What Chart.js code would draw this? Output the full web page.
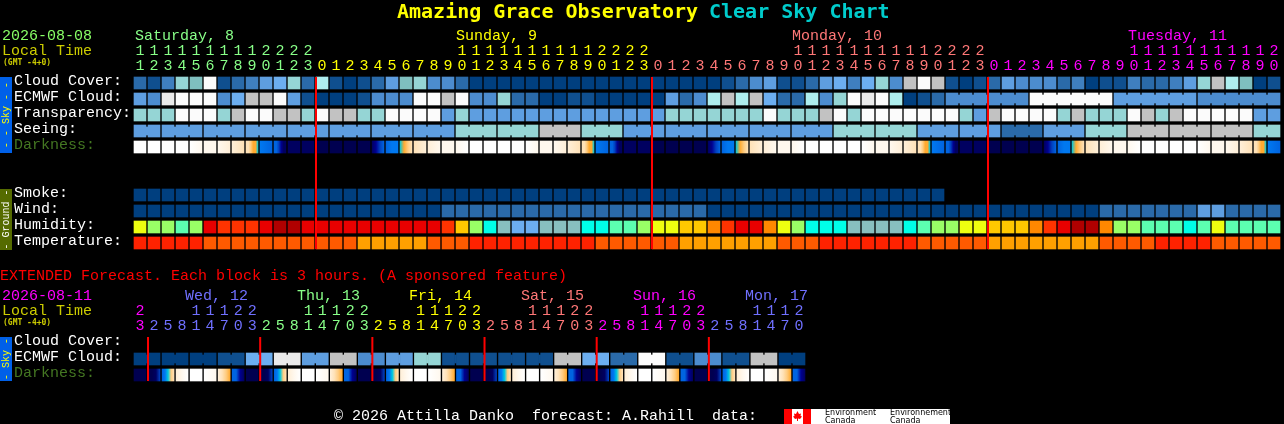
<!DOCTYPE html>
<html>
<head>
<meta charset="utf-8">
<title>Amazing Grace Observatory Clear Sky Chart</title>
<script src="https://cdn.jsdelivr.net/npm/chart.js@4/dist/chart.umd.js"></script>
<style>
  html, body { margin: 0; padding: 0; background: #000; width: 1284px; height: 424px; overflow: hidden; }
  canvas { position: absolute; left: 0; display: block; }
  #mainChart { top: 0; }
  #extendedChart { top: 260px; }
</style>
</head>
<body>
<canvas id="mainChart" width="1284" height="260"></canvas>
<canvas id="extendedChart" width="1284" height="164"></canvas>
<script>
const mono = "'Liberation Mono', monospace";
const titleFont = "bold 20px 'DejaVu Sans Mono', monospace";
const smallFont = "bold 8px 'DejaVu Sans Mono', monospace";

// hourly block
const hours = [
  11, 12, 13, 14, 15, 16, 17, 18, 19, 20, 21, 22, 23,
  0, 1, 2, 3, 4, 5, 6, 7, 8, 9, 10, 11, 12, 13, 14, 15, 16, 17, 18, 19, 20, 21, 22, 23,
  0, 1, 2, 3, 4, 5, 6, 7, 8, 9, 10, 11, 12, 13, 14, 15, 16, 17, 18, 19, 20, 21, 22, 23,
  0, 1, 2, 3, 4, 5, 6, 7, 8, 9, 10, 11, 12, 13, 14, 15, 16, 17, 18, 19, 20,
];
const rowLabels = ["Cloud Cover:", "ECMWF Cloud:", "Transparency:", "Seeing:", "Darkness:", "", "", "Smoke:", "Wind:", "Humidity:", "Temperature:"];
const midnightColumns = [13, 37, 61];

const cloudCover = [
  2, 1, 3, 8, 7, 12, 1, 2, 3, 5,
  6, 8, 2, 9, 1, 0, 1, 2, 5, 7,
  8, 4, 4, 2, 0, 0, 0, 0, 0, 0,
  0, 0, 0, 0, 0, 0, 0, 0, 0, 0,
  0, 0, 1, 2, 4, 5, 1, 1, 2, 5,
  6, 3, 6, 8, 4, 10, 12, 10, 1, 0,
  1, 2, 5, 4, 4, 4, 2, 3, 0, 1,
  1, 3, 2, 2, 3, 5, 8, 10, 9, 7,
  0, 1,
];
const ecmwfCloud = [
  5, 4, 11, 12, 12, 12, 4, 6, 10, 10,
  12, 5, 1, 0, 0, 0, 1, 4, 4, 4,
  12, 12, 10, 12, 4, 4, 8, 2, 2, 0,
  0, 1, 1, 0, 0, 0, 0, 0, 5, 2,
  4, 9, 10, 9, 10, 6, 2, 2, 9, 4,
  8, 12, 11, 12, 9, 0, 1, 2, 4, 4,
  4, 4, 4, 4, 12, 12, 12, 12, 12, 12,
  5, 5, 5, 5, 5, 5, 4, 4, 4, 4,
  4, 4,
];
const ecmwfMergedSpans = [[58, 63], [64, 69], [70, 75], [76, 81]];
const transparency = [
  8, 8, 8, 12, 12, 12, 8, 10, 12, 12,
  10, 10, 8, 12, 10, 10, 8, 8, 12, 12,
  12, 12, 5, 8, 5, 5, 5, 5, 5, 5,
  5, 5, 5, 5, 5, 5, 5, 5, 8, 8,
  8, 8, 8, 8, 8, 12, 8, 8, 8, 10,
  12, 8, 12, 12, 12, 12, 12, 12, 12, 8,
  5, 10, 12, 12, 12, 12, 8, 10, 8, 8,
  8, 12, 10, 8, 10, 12, 12, 12, 12, 12,
  5, 5,
];
// seeing comes in 3 hour blocks, the first and last are cut short
const seeingBlockSizes = [2, 3, 3, 3, 3, 3, 3, 3, 3, 3, 3, 3, 3, 3, 3, 3, 3, 3, 3, 3, 3, 3, 3, 3, 3, 3, 3, 2];
const seeingBlocks = [5, 5, 5, 5, 5, 5, 5, 5, 8, 8, 10, 8, 5, 5, 5, 5, 5, 8, 8, 5, 5, 2, 5, 8, 10, 10, 10, 8];
const darkness = [
  [0], [0], [0], [0], [0, 1], [1], [1, 2], [2, 3],
  [3, 3, 4, 5, 5, 6], [7, 8], [8, 8, 9, 10, 11, 11], [11], [11], [12], [12], [12], [12],
  [11, 10, 9, 8], [8, 7, 7], [6, 5, 4, 3], [3, 2], [2, 1], [1], [1, 0],
  [0], [0], [0], [0], [0, 1], [1], [1, 2], [2, 3],
  [3, 3, 4, 5, 5, 6], [7, 8], [8, 8, 9, 10, 11, 11], [11], [11], [12], [12], [12], [12],
  [11, 10, 9, 8], [8, 7, 7], [6, 5, 4, 3], [3, 2], [2, 1], [1], [1, 0],
  [0], [0], [0], [0], [0, 1], [1], [1, 2], [2, 3],
  [3, 3, 4, 5, 5, 6], [7, 8], [8, 8, 9, 10, 11, 11], [11], [11], [12], [12], [12], [12],
  [11, 10, 9, 8], [8, 7, 7], [6, 5, 4, 3], [3, 2], [2, 1], [1], [1, 0],
  [0], [0], [0], [0], [0, 1], [1], [1, 2], [2, 3],
  [3, 3, 4, 5, 5, 6], [7, 8],
];
const smoke = [
  0, 0, 0, 0, 0, 0, 0, 0, 0, 0,
  0, 0, 0, 0, 0, 0, 0, 0, 0, 0,
  0, 0, 0, 0, 0, 0, 0, 0, 0, 0,
  0, 0, 0, 0, 0, 0, 0, 0, 0, 0,
  0, 0, 0, 0, 0, 0, 0, 0, 0, 0,
  0, 0, 0, 0, 0, 0, 0, 0,
];
const wind = [
  0, 0, 0, 0, 0, 0, 0, 0, 0, 0,
  0, 0, 0, 0, 0, 0, 0, 0, 0, 0,
  0, 0, 2, 2, 2, 2, 2, 2, 2, 2,
  2, 2, 2, 2, 2, 2, 2, 2, 2, 2,
  2, 0, 0, 0, 0, 0, 0, 0, 0, 0,
  0, 0, 0, 0, 0, 0, 0, 0, 0, 0,
  0, 0, 0, 0, 0, 0, 0, 0, 0, 2,
  2, 2, 2, 2, 2, 2, 5, 5, 2, 2,
  2, 2,
];
const humidity = [
  5, 4, 4, 3, 4, 9, 8, 8, 8, 9,
  10, 10, 9, 9, 9, 9, 9, 9, 9, 9,
  9, 9, 8, 6, 4, 2, 1, 0, 0, 1,
  1, 1, 2, 2, 3, 3, 4, 5, 5, 6,
  6, 7, 8, 9, 9, 7, 5, 4, 2, 2,
  2, 1, 1, 1, 1, 2, 3, 4, 4, 5,
  5, 6, 6, 6, 7, 8, 9, 10, 10, 7,
  4, 4, 3, 3, 3, 2, 3, 5, 3, 3,
  3, 3,
];
const temperature = [
  0, 0, 0, 0, 0, 1, 1, 1, 1, 1,
  1, 1, 1, 1, 1, 1, 2, 2, 2, 2,
  2, 1, 1, 1, 0, 0, 0, 0, 0, 0,
  0, 0, 0, 1, 1, 1, 1, 1, 1, 2,
  2, 2, 2, 2, 2, 2, 1, 1, 1, 0,
  0, 0, 0, 0, 0, 0, 1, 1, 1, 1,
  1, 2, 2, 2, 2, 2, 2, 2, 2, 1,
  1, 1, 1, 0, 0, 0, 0, 1, 1, 1,
  1, 1,
];

// 3 hour extended block
const extendedHours = [
  23,
  2, 5, 8, 11, 14, 17, 20, 23,
  2, 5, 8, 11, 14, 17, 20, 23,
  2, 5, 8, 11, 14, 17, 20, 23,
  2, 5, 8, 11, 14, 17, 20, 23,
  2, 5, 8, 11, 14, 17, 20, 23,
  2, 5, 8, 11, 14, 17, 20,
];
const extendedRowLabels = ["Cloud Cover:", "ECMWF Cloud:", "Darkness:"];
const extendedMidnights = [1, 9, 17, 25, 33, 41];
const extendedCloud = [0, 0, 0, 1, 6, 11, 5, 10, 4, 5, 8, 1, 1, 1, 1, 10, 6, 2, 12, 1, 4, 1, 10, 0];
const extendedDarkness = [
  [12], [12, 12, 11, 9], [8, 7, 6, 4, 3], [2, 1, 0], [0], [0, 1], [2, 3, 4, 5], [8, 8, 10, 11],
  [12], [12, 12, 11, 9], [8, 7, 6, 4, 3], [2, 1, 0], [0], [0, 1], [2, 3, 4, 5], [8, 8, 10, 11],
  [12], [12, 12, 11, 9], [8, 7, 6, 4, 3], [2, 1, 0], [0], [0, 1], [2, 3, 4, 5], [8, 8, 10, 11],
  [12], [12, 12, 11, 9], [8, 7, 6, 4, 3], [2, 1, 0], [0], [0, 1], [2, 3, 4, 5], [8, 8, 10, 11],
  [12], [12, 12, 11, 9], [8, 7, 6, 4, 3], [2, 1, 0], [0], [0, 1], [2, 3, 4, 5], [8, 8, 10, 11],
  [12], [12, 12, 11, 9], [8, 7, 6, 4, 3], [2, 1, 0], [0], [0, 1], [2, 3, 4, 5], [8, 8, 10, 11],
];

const cloudColors = [
  "#003f7f", "#0f4f8f", "#2a6aa9", "#3f7fbf", "#4c8ccf", "#5e9ee0", "#6caef0",
  "#7fbfbf", "#95d5d5", "#aeeeee", "#c2c2c2", "#eaeaea", "#fbfbfb",
];
const darknessColors = [
  "#ffffff", "#fff8ee", "#ffefd8", "#ffe2b8", "#ffcc80", "#ffaa30", "#00c8e0",
  "#0078f0", "#0064e0", "#0040c0", "#000090", "#000060", "#000050",
];
const humidityColors = [
  "#6caef0", "#88bfbf", "#00ffe8", "#5cffb0", "#99ff66", "#eeff10",
  "#ffc800", "#ff8800", "#ff3300", "#e80000", "#b00000",
];
const temperatureColors = ["#ff2200", "#ff5a00", "#ffa000"];
const dayColors = ["#88ff88", "#ffff00", "#ff7777", "#ff00ff"];
const extendedDayColors = ["#ff00ff", "#7070ff", "#88ff88", "#ffff00", "#ff7777", "#ff00ff", "#7070ff"];

// the seeing blocks repeated out to one level per hour
const seeing = seeingBlocks.flatMap((level, i) => Array(seeingBlockSizes[i]).fill(level));

function spansFromSizes(sizes) {
  let col = 0;
  return sizes.map((size) => {
    const span = [col, col + size - 1];
    col += size;
    return span;
  });
}

function dayIndexes(list) {
  let day = 0;
  return list.map((h, i) => {
    if (i > 0 && h < list[i - 1]) day++;
    return day;
  });
}

function cellRow(levels, row, colors) {
  return {
    data: levels.map((level, i) => ({ x: i + 0.5, y: [row + 0.125, row + 0.875] })),
    backgroundColor: levels.map((level) => colors[level]),
    barThickness: 12,
    order: 2,
  };
}

// thin bars across the gap, makes neighbouring cells of one forecast block look joined
function bridgeRow(levels, row, colors, spans) {
  const data = [];
  const backgroundColor = [];
  spans.forEach(([from, to]) => {
    for (let col = from; col < to; col++) {
      data.push({ x: col + 1, y: [row + 0.25, row + 0.75] });
      backgroundColor.push(colors[levels[col]]);
    }
  });
  return { data, backgroundColor, barThickness: 2, order: 2 };
}

function darknessRow(stops, row) {
  return {
    data: stops.map((s, i) => ({ x: i + 0.5, y: [row + 0.125, row + 0.875] })),
    backgroundColor: (ctx) => {
      const cell = stops[ctx.dataIndex];
      if (!cell) return "#000";
      if (cell.length === 1) return darknessColors[cell[0]];
      const x = ctx.chart.scales.x;
      const col = ctx.dataIndex;
      const g = ctx.chart.ctx.createLinearGradient(x.getPixelForValue(col + 1 / 14), 0, x.getPixelForValue(col + 13 / 14), 0);
      cell.forEach((level, i) => g.addColorStop(i / (cell.length - 1), darknessColors[level]));
      return g;
    },
    barThickness: 12,
    order: 2,
  };
}

function midnightLine(col, rows) {
  return {
    type: "line",
    data: [{ x: col + 1 / 14, y: 0.125 }, { x: col + 1 / 14, y: rows - 0.125 }],
    borderColor: "#ff0000",
    borderWidth: 2,
    pointRadius: 0,
    order: 1,
  };
}

function hourTick(h) {
  const s = String(h);
  return s.length > 1 ? [s[0], s[1]] : [" ", s];
}

const textLayer = {
  id: "textLayer",
  afterDraw(chart, args, opts) {
    const ctx = chart.ctx;
    ctx.save();
    (opts.boxes || []).forEach((b) => {
      ctx.fillStyle = b.color;
      ctx.fillRect(0, b.top, 12, b.bottom - b.top);
      ctx.save();
      ctx.translate(6, (b.top + b.bottom) / 2);
      ctx.rotate(-Math.PI / 2);
      ctx.fillStyle = b.textColor;
      ctx.font = "10px " + mono;
      ctx.textAlign = "center";
      ctx.textBaseline = "middle";
      ctx.fillText(b.text, 0, 0);
      ctx.restore();
    });
    ctx.textBaseline = "alphabetic";
    ctx.textAlign = "left";
    (opts.texts || []).forEach((t) => {
      ctx.font = t.font || "15px " + mono;
      ctx.fillStyle = t.color;
      ctx.fillText(t.text, t.x, t.y);
    });
    if (opts.logo) drawLogo(ctx);
    ctx.restore();
  },
};

function drawLogo(ctx) {
  ctx.fillStyle = "#ffffff";
  ctx.fillRect(784, 149, 166, 15);
  ctx.fillStyle = "#ff0000";
  ctx.fillRect(784, 149, 8, 15);
  ctx.fillRect(803, 149, 8, 15);
  ctx.beginPath();
  [[797.5, 151], [799, 154], [801, 153.5], [800.5, 156], [802, 156.5], [800, 159], [798, 158.5], [798, 161], [797, 161], [797, 158.5], [795, 159], [793, 156.5], [794.5, 156], [794, 153.5], [796, 154]]
    .forEach(([x, y], i) => (i ? ctx.lineTo(x, y) : ctx.moveTo(x, y)));
  ctx.closePath();
  ctx.fill();
  ctx.fillStyle = "#000000";
  ctx.font = "8px 'DejaVu Sans', sans-serif";
  ctx.fillText("Environment", 825, 155);
  ctx.fillText("Canada", 825, 163);
  ctx.fillText("Environnement", 890, 155);
  ctx.fillText("Canada", 890, 163);
}

function axisOptions(columns, tickLabels, colorOf, labels, labelColor) {
  return {
    x: {
      type: "linear",
      position: "top",
      offset: false,
      min: 0,
      max: columns,
      afterBuildTicks: (scale) => { scale.ticks = tickLabels.map((t, i) => ({ value: i + 0.5 })); },
      afterFit: (scale) => {
        scale.height = 75;
        scale.paddingLeft = 0;
        scale.paddingRight = 0;
      },
      grid: { display: false, drawTicks: false },
      border: { display: false },
      ticks: {
        autoSkip: false,
        maxRotation: 0,
        padding: 1,
        color: (ctx) => colorOf(ctx.index),
        font: { family: mono, size: 15, lineHeight: 1 },
        callback: (value, i) => hourTick(tickLabels[i]),
      },
    },
    y: {
      type: "linear",
      reverse: true,
      min: 0,
      max: labels.length,
      afterBuildTicks: (scale) => { scale.ticks = labels.map((t, i) => ({ value: i + 0.5 })); },
      afterFit: (scale) => {
        scale.width = 119;
        scale.paddingTop = 0;
        scale.paddingBottom = 0;
      },
      grid: { display: false, drawTicks: false },
      border: { display: false },
      ticks: {
        autoSkip: false,
        crossAlign: "far",
        labelOffset: -2,
        color: (ctx) => labelColor(labels[ctx.index]),
        font: { family: mono, size: 15, lineHeight: 1 },
        callback: (value, i) => labels[i],
      },
    },
  };
}

function baseOptions(scales, padding, plugin) {
  return {
    responsive: false,
    animation: false,
    devicePixelRatio: 1,
    events: [],
    layout: { padding, autoPadding: false },
    datasets: { bar: { grouped: false, borderWidth: 0, borderSkipped: false } },
    plugins: { legend: { display: false }, tooltip: { enabled: false }, title: { display: false }, textLayer: plugin },
    scales,
  };
}

const rowLabelColor = (label) => (label === "Darkness:" ? "#447722" : "#ffffff");
const dayOfColumn = dayIndexes(hours);
const dayOfExtended = dayIndexes(extendedHours);

new Chart(document.getElementById("mainChart"), {
  type: "bar",
  plugins: [textLayer],
  data: {
    datasets: [
      cellRow(cloudCover, 0, cloudColors),
      cellRow(ecmwfCloud, 1, cloudColors),
      bridgeRow(ecmwfCloud, 1, cloudColors, ecmwfMergedSpans),
      cellRow(transparency, 2, cloudColors),
      cellRow(seeing, 3, cloudColors),
      bridgeRow(seeing, 3, cloudColors, spansFromSizes(seeingBlockSizes)),
      darknessRow(darkness, 4),
      cellRow(smoke, 7, cloudColors),
      cellRow(wind, 8, cloudColors),
      cellRow(humidity, 9, humidityColors),
      cellRow(temperature, 10, temperatureColors),
      ...midnightColumns.map((col) => midnightLine(col, rowLabels.length)),
    ],
  },
  options: baseOptions(
    axisOptions(hours.length, hours, (i) => dayColors[dayOfColumn[i]], rowLabels, rowLabelColor),
    { left: 14, right: 3, top: 0, bottom: 9 },
    {
      boxes: [
        { top: 77, bottom: 153, color: "#0060e8", textColor: "#ffff00", text: "- - Sky - -" },
        { top: 189, bottom: 250, color: "#556b00", textColor: "#ffffff", text: "- Ground -" },
      ],
      texts: [
        { text: "Amazing Grace Observatory", x: 397, y: 18, color: "#ffff00", font: titleFont },
        { text: "Clear Sky Chart", x: 709, y: 18, color: "#00cccc", font: titleFont },
        { text: "2026-08-08", x: 2, y: 40, color: "#88ff66" },
        { text: "Local Time", x: 2, y: 55, color: "#cccc00" },
        { text: "(GMT -4+0)", x: 3, y: 65, color: "#cccc00", font: smallFont },
        { text: "Saturday, 8", x: 135, y: 40, color: dayColors[0] },
        { text: "Sunday, 9", x: 456, y: 40, color: dayColors[1] },
        { text: "Monday, 10", x: 792, y: 40, color: dayColors[2] },
        { text: "Tuesday, 11", x: 1128, y: 40, color: dayColors[3] },
      ],
    }
  ),
});

new Chart(document.getElementById("extendedChart"), {
  type: "bar",
  plugins: [textLayer],
  data: {
    datasets: [
      cellRow(extendedCloud.flatMap((level) => [level, level]), 1, cloudColors),
      bridgeRow(extendedCloud.flatMap((level) => [level, level]), 1, cloudColors, spansFromSizes(extendedCloud.map(() => 2))),
      darknessRow(extendedDarkness, 2),
      ...extendedMidnights.map((col) => midnightLine(col, extendedRowLabels.length)),
    ],
  },
  options: baseOptions(
    axisOptions(extendedHours.length, extendedHours, (i) => extendedDayColors[dayOfExtended[i]], extendedRowLabels, rowLabelColor),
    { left: 14, right: 478, top: 0, bottom: 41 },
    {
      boxes: [{ top: 77, bottom: 121, color: "#0060e8", textColor: "#ffff00", text: "- Sky -" }],
      logo: true,
      texts: [
        { text: "EXTENDED Forecast. Each block is 3 hours. (A sponsored feature)", x: 0, y: 20, color: "#ff0000" },
        { text: "2026-08-11", x: 2, y: 40, color: "#ff00ff" },
        { text: "Local Time", x: 2, y: 55, color: "#cccc00" },
        { text: "(GMT -4+0)", x: 3, y: 65, color: "#cccc00", font: smallFont },
        { text: "Wed, 12", x: 185, y: 40, color: extendedDayColors[1] },
        { text: "Thu, 13", x: 297, y: 40, color: extendedDayColors[2] },
        { text: "Fri, 14", x: 409, y: 40, color: extendedDayColors[3] },
        { text: "Sat, 15", x: 521, y: 40, color: extendedDayColors[4] },
        { text: "Sun, 16", x: 633, y: 40, color: extendedDayColors[5] },
        { text: "Mon, 17", x: 745, y: 40, color: extendedDayColors[6] },
        { text: "\u00a9 2026 Attilla Danko  forecast: A.Rahill  data:", x: 334, y: 160, color: "#ffffff" },
      ],
    }
  ),
});
</script>
</body>
</html>
